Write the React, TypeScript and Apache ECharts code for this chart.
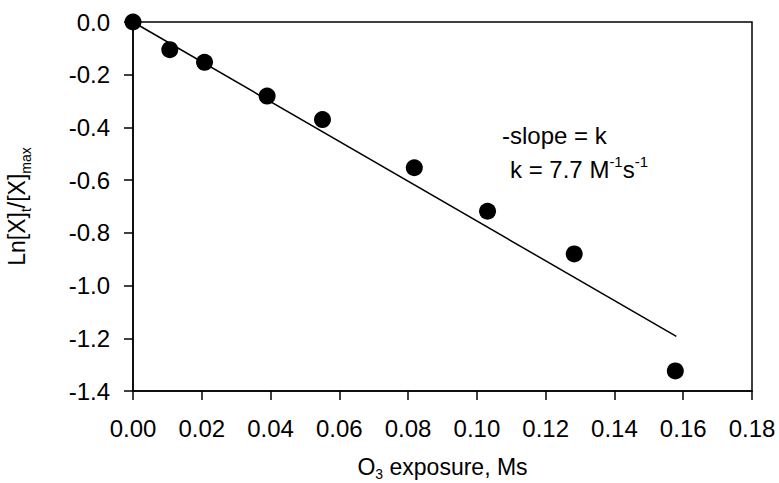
import React, { useEffect, useRef } from "react";
import * as echarts from "echarts";

const exposure = [0, 0.0107, 0.0208, 0.039, 0.0551, 0.0818, 0.1031, 0.1283, 0.1577];
const lnRatio = [0, -0.105, -0.153, -0.281, -0.37, -0.553, -0.718, -0.88, -1.324];
const fitX = [0, 0.158];
const fitY = [0, -1.193];
const xTicks = { min: 0, max: 0.18, interval: 0.02 };
const yTicks = { min: -1.4, max: 0, interval: 0.2 };
const note1 = "-slope = k";
const note2 = ["k = 7.7 M", "-1", "s", "-1"];

const FONT = "Liberation Sans, Arial, sans-serif";

export default function App() {
  const ref = useRef<HTMLDivElement>(null);
  useEffect(() => {
    const chart = echarts.init(ref.current!, undefined, { renderer: "svg" });
    const main = { fontSize: 23, fontFamily: FONT, color: "#000", lineHeight: 32, verticalAlign: "middle" };
    const sub = { fontSize: 14, fontFamily: FONT, color: "#000", lineHeight: 14, verticalAlign: "bottom" };
    const mainX = { ...main, lineHeight: 28 };
    chart.setOption({
      animation: false,
      backgroundColor: "#fff",
      grid: {
        left: 133,
        right: 27,
        top: 22,
        bottom: 92,
        show: true,
        borderColor: "#000",
        borderWidth: 1.5,
        containLabel: false,
        outerBoundsMode: "none",
      },
      xAxis: {
        type: "value",
        min: xTicks.min,
        max: xTicks.max,
        interval: xTicks.interval,
        name: "{m|O}{s|3}{m| exposure, Ms}",
        nameLocation: "middle",
        nameGap: 62,
        nameTextStyle: { rich: { m: mainX, s: sub } },
        axisLine: { show: true, onZero: false, lineStyle: { color: "#000", width: 1.5 } },
        axisTick: { show: true, inside: false, length: 9, lineStyle: { color: "#000", width: 1.5 } },
        axisLabel: {
          margin: 25,
          fontSize: 24,
          fontFamily: FONT,
          color: "#000",
          formatter: (v: number) => v.toFixed(2),
        },
        splitLine: { show: false },
      },
      yAxis: {
        type: "value",
        min: yTicks.min,
        max: yTicks.max,
        interval: yTicks.interval,
        name: "{m|Ln[X]}{s|t}{m|/[X]}{s|max}",
        nameLocation: "middle",
        nameRotate: 90,
        nameGap: 100,
        nameTextStyle: { rich: { m: main, s: sub } },
        axisLine: { show: true, onZero: false, lineStyle: { color: "#000", width: 1.5 } },
        axisTick: { show: true, inside: false, length: 9, lineStyle: { color: "#000", width: 1.5 } },
        axisLabel: {
          margin: 23,
          fontSize: 24,
          fontFamily: FONT,
          color: "#000",
          formatter: (v: number) => (Math.abs(v) < 1e-9 ? "0.0" : v.toFixed(1)),
        },
        splitLine: { show: false },
      },
      graphic: [
        {
          type: "text",
          left: 502,
          top: 123,
          style: { text: note1, font: `24px ${FONT}`, fill: "#000" },
        },
        {
          type: "text",
          left: 510,
          top: 154,
          style: {
            text: `{m|${note2[0]}}{p|${note2[1]}}{m|${note2[2]}}{p|${note2[3]}}`,
            rich: {
              m: { fontSize: 24, fontFamily: FONT, color: "#000", lineHeight: 31, verticalAlign: "middle" },
              p: { fontSize: 15, fontFamily: FONT, color: "#000", lineHeight: 15, verticalAlign: "top" },
            },
          },
        },
      ],
      series: [
        {
          type: "line",
          data: fitX.map((x, i) => [x, fitY[i]]),
          showSymbol: false,
          symbol: "none",
          lineStyle: { color: "#000", width: 1.5 },
          z: 2,
        },
        {
          type: "scatter",
          data: exposure.map((x, i) => [x, lnRatio[i]]),
          symbol: "circle",
          symbolSize: 17,
          itemStyle: { color: "#000", opacity: 1 },
          z: 3,
        },
      ],
    });
    return () => chart.dispose();
  }, []);
  return (
    <div
      ref={ref}
      style={{ position: "fixed", left: 0, top: 0, width: 779, height: 483, background: "#fff" }}
    />
  );
}
